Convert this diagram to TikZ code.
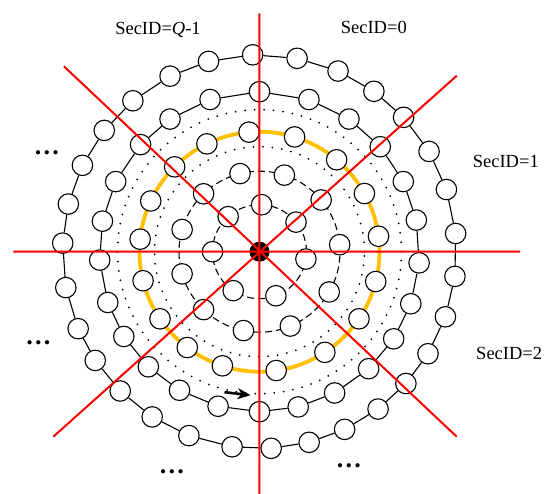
\documentclass[tikz,border=0pt]{standalone}
\usepackage{fontspec}
\setmainfont{Liberation Serif}
\usetikzlibrary{arrows.meta}
\definecolor{ringgold}{HTML}{FFC000}
\tikzset{
  cell/.style={circle, draw, fill=white, line width=1.1pt, minimum size=20.5pt, inner sep=0pt},
  sector/.style={red, line width=2pt},
  ring/.style={line width=1.1pt},
  dots/.style={anchor=base, font=\fontsize{26}{26}\selectfont\bfseries},
}
\begin{document}
\begin{tikzpicture}[x=1pt, y=1pt, line join=round, font=\fontsize{18.5}{22}\selectfont]
	\useasboundingbox (-259.5,-242.3) rectangle (287.5,251.7);
	\path (0,0) coordinate (O)
	(0,238.4) coordinate (N) (0,-242.3) coordinate (S)
	(-246.2,0) coordinate (W) (260.5,0) coordinate (E)
	(-195.5,185.3) coordinate (NW) (197.2,-185) coordinate (SE)
	(197.3,176) coordinate (NE) (-206.2,-185) coordinate (SW)
	(-35,-140.5) coordinate (T_1) (-9,-143.5) coordinate (T_2);
	\draw[ring, dash pattern=on 7pt off 4pt] (O) circle (47pt) (O) circle (80.5pt);
	\draw[line width=2pt, line cap=round, dash pattern=on 0pt off 9.5pt] (O) circle (105pt) (O) circle (142pt);
	\draw[ringgold, line width=3.8pt] (O) circle (120pt);
	\foreach \a [count=\i] in {87.4,39,-9,-69.6,-124,180,131.8}
	\node[cell] (a\i) at (\a:47) {};
	\foreach \a [count=\i] in {104,72,40,5,-30,-67.5,-101.5,-134,-164,164,134}
	\node[cell] (b\i) at (\a:80.5) {};
	\foreach \a [count=\i] in {95,116,135,155,174,194,214,233,252,278,303,326,345.6,7.4,29,50,73}
	\node[cell] (c\i) at (\a:120) {};
	\foreach \a [count=\i] in {90,72,56,41,26,11.4,-4,-19,-33,-47,-62,-76,-90,-105,-120,-134,-148,-161.5,-177,169,154,138,124,108}
	\node[cell] (d\i) at (\a:160) {};
	\foreach \a [count=\i] in {92,79,66.5,54.5,43,30.6,18.4,5.3,-7.2,-19.3,-31.2,-42,-53,-64.4,-75.4,-86.6,-98,-111,-123,-135,-146.5,-157,-169.5,177.5,166,154,142,130,117,105}
	\node[cell] (e\i) at (\a:197) {};
	\foreach \i [remember=\i as \j (initially 24)] in {1,...,24}
	\draw[ring] (d\j) -- (d\i);
	\foreach \i [remember=\i as \j (initially 30)] in {1,...,30}
	\draw[ring] (e\j) -- (e\i);
	\fill (O) circle (10pt);
	\draw[sector] (N) -- (S) (W) -- (E) (NW) -- (SE) (NE) -- (SW);
	\draw[line width=2.6pt, -{Stealth[length=13pt, width=11pt]}] (T_1) -- (T_2);
	\node[anchor=base] (q) at (-101.5,217.2) {SecID=\textit{Q}-1};
	\node[anchor=base] (s0) at (114.3,218.5) {SecID=0};
	\node[anchor=base] (s1) at (246.3,84) {SecID=1};
	\node[anchor=base] (s2) at (249.7,-107.6) {SecID=2};
	\foreach \x/\y [count=\i] in {-212.5/96.9, -221.2/-93.1, -87.5/-221.8, 89.5/-215.8}
	\node[dots] (m\i) at (\x,\y) {…};
\end{tikzpicture}
\end{document}
